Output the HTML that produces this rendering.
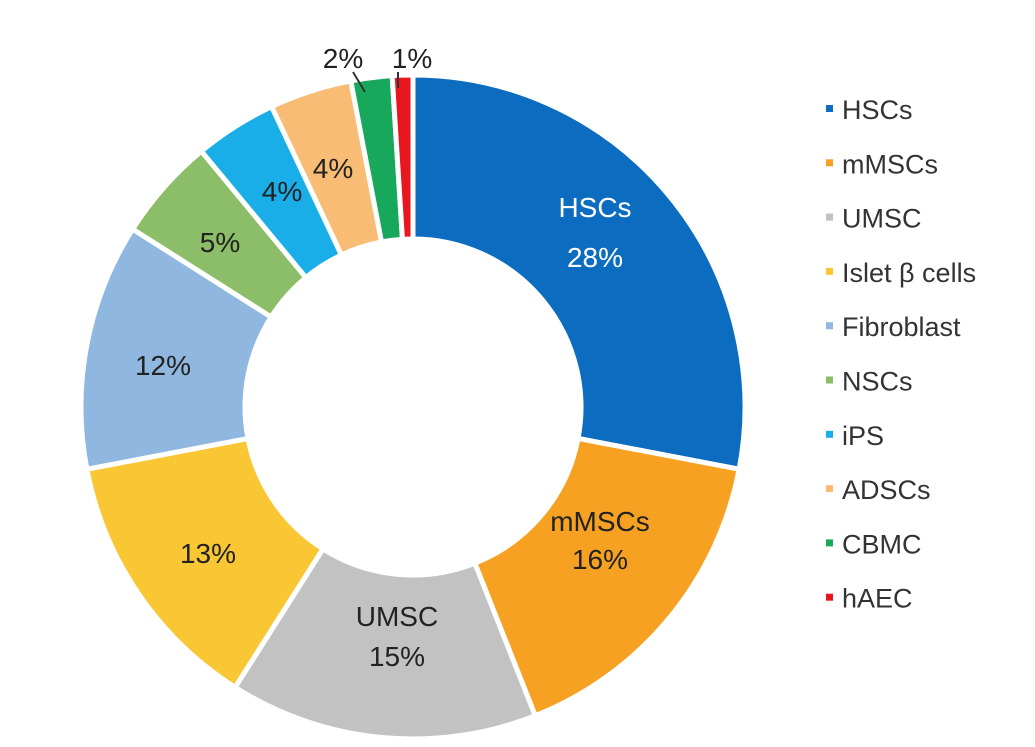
<!DOCTYPE html>
<html><head><meta charset="utf-8"><style>
body{margin:0;background:#fff;width:1035px;height:742px;overflow:hidden;font-family:"Liberation Sans",sans-serif}
</style></head><body>
<svg id="c" width="1035" height="742"></svg>
<script>
const categories=["HSCs","mMSCs","UMSC","Islet β cells","Fibroblast","NSCs","iPS","ADSCs","CBMC","hAEC"];
const values=[28,16,15,13,12,5,4,4,2,1];
const colors=["#0b6cc0","#f7a123","#c2c2c2","#f9c634","#8fb7df","#8cbd68","#1aaee9","#f8bc74","#18a85b","#e8161e"];
const NS="http://www.w3.org/2000/svg";
const svg=document.getElementById('c');
const cx=413,cy=407,R=332,r=168;
const total=values.reduce((a,b)=>a+b,0);
function pt(a,rad){return [cx+rad*Math.sin(a),cy-rad*Math.cos(a)];}
let acc=0;
const labelPos=[[595,232],[600,540],[397,636],[208,553],[163,365],[220,242],[282,191],[333,168],[343,58],[412,58]];
const labelGap=[50,38,40,0,0,0,0,0,0,0];
const labelText=[["HSCs","28%"],["mMSCs","16%"],["UMSC","15%"],["13%"],["12%"],["5%"],["4%"],["4%"],["2%"],["1%"]];
values.forEach((v,i)=>{
  const a0=acc/total*2*Math.PI, a1=(acc+v)/total*2*Math.PI; acc+=v;
  const [x0,y0]=pt(a0,R),[x1,y1]=pt(a1,R),[x2,y2]=pt(a1,r),[x3,y3]=pt(a0,r);
  const lg=(a1-a0)>Math.PI?1:0;
  const p=document.createElementNS(NS,'path');
  p.setAttribute('d',`M${x0},${y0}A${R},${R} 0 ${lg} 1 ${x1},${y1}L${x2},${y2}A${r},${r} 0 ${lg} 0 ${x3},${y3}Z`);
  p.setAttribute('fill',colors[i]);p.setAttribute('stroke','#fff');p.setAttribute('stroke-width','5');
  
  
  svg.appendChild(p);
  const lines=labelText[i];const [lx,ly]=labelPos[i];
  lines.forEach((s,j)=>{
    const t=document.createElementNS(NS,'text');
    t.setAttribute('x',lx);t.setAttribute('y',ly+(j-(lines.length-1)/2)*labelGap[i]+10);
    t.setAttribute('text-anchor','middle');t.setAttribute('font-size','28');
    t.setAttribute('fill',i===0?'#fff':'#222');
    t.textContent=s;
    
    
    svg.appendChild(t);
  });
  const sq=document.createElementNS(NS,'rect');
  sq.setAttribute('x',826);sq.setAttribute('y',105+i*54.3);sq.setAttribute('width',7);sq.setAttribute('height',7);sq.setAttribute('fill',colors[i]);
  
  
  svg.appendChild(sq);
  const lt=document.createElementNS(NS,'text');
  lt.setAttribute('x',842);lt.setAttribute('y',119+i*54.3);lt.setAttribute('font-size','27');lt.setAttribute('fill','#333');
  lt.textContent=categories[i];
  
  
  svg.appendChild(lt);
});
[[353,72,365,92],[398,72,398,88]].forEach(l=>{
  const ln=document.createElementNS(NS,'line');
  ln.setAttribute('x1',l[0]);ln.setAttribute('y1',l[1]);ln.setAttribute('x2',l[2]);ln.setAttribute('y2',l[3]);
  ln.setAttribute('stroke','#333');ln.setAttribute('stroke-width','2');
  
  
  svg.appendChild(ln);
});
</script>
</body></html>
